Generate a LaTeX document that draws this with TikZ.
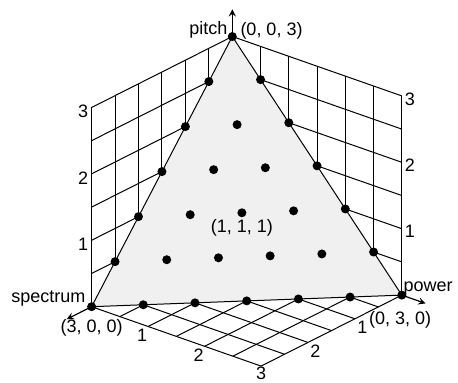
\documentclass[tikz,border=0pt]{standalone}
\usepackage{fontspec}
\setmainfont{Liberation Sans}
\begin{document}
\begin{tikzpicture}[x={(-23.45pt,-11.83pt)}, y={(28.25pt,-9.9pt)}, z={(0pt,33.2pt)}, >=stealth,
    gridline/.style={black, line width=0.5pt},
    dot/.style={circle, fill=black, inner sep=0pt, minimum size=4.5pt},
    lbl/.style={font=\fontsize{9}{10}\selectfont, inner sep=0pt}]
    \useasboundingbox (-116.15pt,-73.15pt) rectangle (112.85pt,117.85pt);

    % 1. grids on floor and both walls (the triangle hides the back part)
    \foreach \t in {0,0.5,...,3} {
        \draw[gridline] (\t,0,0) -- (\t,3,0);
        \draw[gridline] (0,\t,0) -- (3,\t,0);
        \draw[gridline] (\t,0,0) -- (\t,0,3);
        \draw[gridline] (3,0,\t) -- (0,0,\t);
        \draw[gridline] (0,\t,0) -- (0,\t,3);
        \draw[gridline] (0,0,\t) -- (0,3,\t);
    }

    % 2. the simplex spectrum + power + pitch = 3
    \coordinate (spec) at (3,0,0);
    \coordinate (pow) at (0,3,0);
    \coordinate (pit) at (0,0,3);
    \filldraw[fill=gray!12, line width=0.5pt] (spec) -- (pow) -- (pit) -- cycle;

    % 3. axis arrows
    \coordinate (specEnd) at (3.53,0,0);
    \coordinate (powEnd) at (0,3.42,0);
    \coordinate (pitEnd) at (0,0,3.41);
    \draw[->, line width=0.6pt] (spec) -- (specEnd);
    \draw[->, line width=0.6pt] (pow) -- (powEnd);
    \draw[->, line width=0.6pt] (pit) -- (pitEnd);

    % 4. grid points of the simplex, step 1/2
    \foreach \i in {0,...,6}
        \foreach \j in {0,...,\i}
            \node[dot] (d-\i-\j) at ({\j/2},{(\i-\j)/2},{(6-\i)/2}) {};

    % 5. axis names and corner values
    \node[lbl, anchor=east] (pitchName) at ([xshift=-2.2pt, yshift=3.3pt]pit) {pitch};
    \node[lbl, anchor=west] (pitchVal) at ([xshift=3.9pt, yshift=2.9pt]pit) {(0, 0, 3)};
    \node[lbl, anchor=east] (specName) at ([xshift=-2.9pt, yshift=4.2pt]spec) {spectrum};
    \node[lbl] (specVal) at ([yshift=-10.7pt]spec) {(3, 0, 0)};
    \node[lbl, anchor=west] (powName) at ([xshift=0.7pt, yshift=3.5pt]pow) {power};
    \node[lbl] (powVal) at ([xshift=-0.85pt, yshift=-12.5pt]pow) {(0, 3, 0)};
    \node[lbl] (midVal) at ([yshift=-7.5pt]d-4-2) {(1, 1, 1)};

    % 6. tick values on walls and floor
    \foreach \k in {1,2,3} {
        \node[lbl, anchor=east] (lt\k) at ([xshift=-1.5pt, yshift=-2pt]3,0,\k) {\k};
        \node[lbl, anchor=west] (rt\k) at ([xshift=1.3pt, yshift=-1.5pt]0,3,\k) {\k};
    }
    \foreach \k in {1,2} {
        \node[lbl] (fl\k) at ([xshift=-3pt, yshift=-4.5pt]3,\k,0) {\k};
        \node[lbl] (fr\k) at ([xshift=3.7pt, yshift=-4.4pt]\k,3,0) {\k};
    }
    \node[lbl, anchor=north] (fc3) at ([yshift=-0.3pt]3,3,0) {3};
\end{tikzpicture}
\end{document}
